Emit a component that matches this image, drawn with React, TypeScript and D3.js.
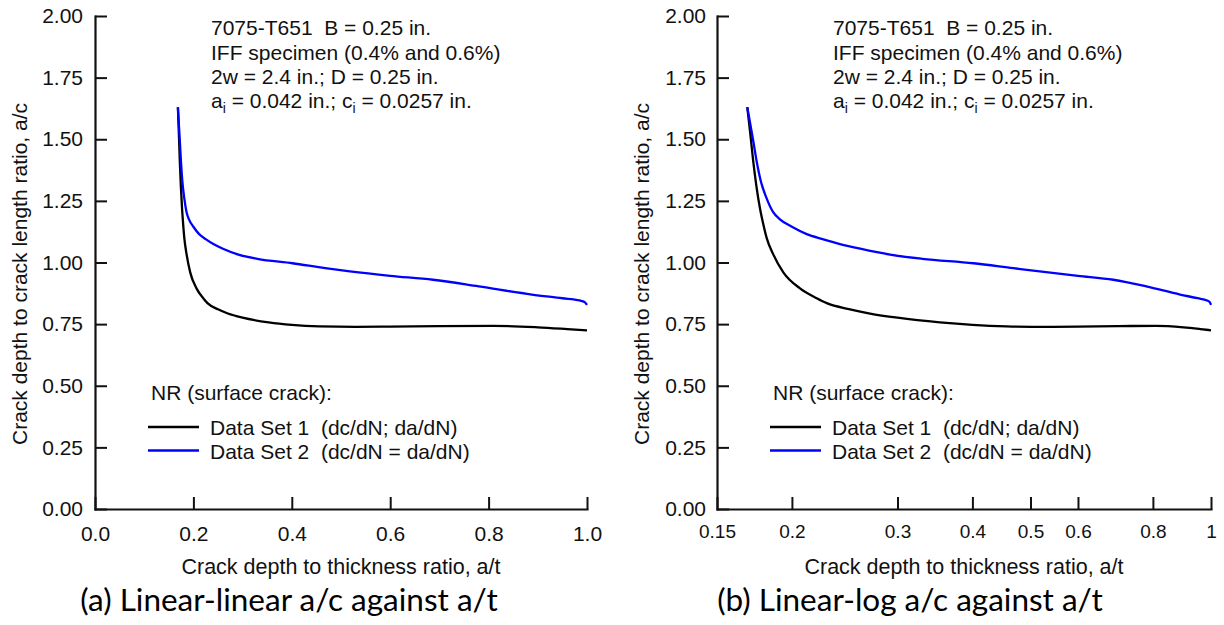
import React, { useEffect, useRef } from "react";
import * as d3 from "d3";

// NR surface crack results (a/t -> a/c)
const atSet1 = [0.1685, 0.1705, 0.1724, 0.1745, 0.1769, 0.179, 0.1815, 0.186, 0.1935, 0.2063, 0.22, 0.2286, 0.25, 0.27, 0.3, 0.353, 0.4, 0.456, 0.53, 0.6, 0.7, 0.81, 0.9, 0.96, 1.0];
const acSet1 = [1.63, 1.52, 1.41, 1.31, 1.22, 1.16, 1.10, 1.035, 0.96, 0.895, 0.855, 0.835, 0.81, 0.793, 0.776, 0.757, 0.747, 0.741, 0.739, 0.74, 0.742, 0.743, 0.737, 0.73, 0.725];

const atSet2 = [0.1685, 0.1705, 0.1725, 0.1747, 0.1775, 0.1815, 0.186, 0.191, 0.2, 0.2117, 0.225, 0.2406, 0.26, 0.2916, 0.33, 0.4015, 0.468, 0.518, 0.6, 0.687, 0.78, 0.888, 0.95, 0.985, 0.995, 1.0];
const acSet2 = [1.63, 1.56, 1.49, 1.41, 1.33, 1.26, 1.205, 1.175, 1.145, 1.115, 1.095, 1.075, 1.056, 1.032, 1.015, 0.997, 0.977, 0.964, 0.946, 0.930, 0.903, 0.870, 0.855, 0.846, 0.840, 0.828];

const yTicks = [0, 0.25, 0.5, 0.75, 1.0, 1.25, 1.5, 1.75, 2.0];
const xTicksLinear = [0, 0.2, 0.4, 0.6, 0.8, 1.0];
const xTicksLog = [0.15, 0.2, 0.3, 0.4, 0.5, 0.6, 0.8, 1];

const seriesNames = ["Data Set 1  (dc/dN; da/dN)", "Data Set 2  (dc/dN = da/dN)"];
const seriesColors = ["#000000", "#0000ff"];
const legendTitle = "NR (surface crack):";
const notes = ["7075-T651  B = 0.25 in.", "IFF specimen (0.4% and 0.6%)", "2w = 2.4 in.; D = 0.25 in."];
const xTitle = "Crack depth to thickness ratio, a/t";
const yTitle = "Crack depth to crack length ratio, a/c";
const captions = ["(a) Linear-linear a/c against a/t", "(b) Linear-log a/c against a/t"];

const FONT = "'Liberation Sans', Arial, sans-serif";

function drawPanel(svg: any, x: any, xTicks: number[], xFmt: (d: number) => string, xLabelSize: number, xPad: number, yPad: number, caption: string, captionX: number) {
  const y = d3.scaleLinear().domain([0, 2]).range([509, 16]);
  const [x0, x1] = x.range();
  const g = svg.append("g");

  // x axis
  const xa = g.append("g")
    .attr("transform", `translate(0,${y(0)})`)
    .call(d3.axisBottom(x).tickValues(xTicks).tickFormat(xFmt as any).tickSizeInner(-12).tickSizeOuter(0).tickPadding(xPad));
  xa.attr("font-family", FONT).attr("font-size", xLabelSize);
  xa.selectAll("text").attr("fill", "#111");

  // y axis
  const ya = g.append("g")
    .attr("transform", `translate(${x0},0)`)
    .call(d3.axisLeft(y).tickValues(yTicks).tickFormat(d3.format(".2f") as any).tickSizeInner(-12).tickSizeOuter(0).tickPadding(yPad));
  ya.attr("font-family", FONT).attr("font-size", 21);
  ya.selectAll("text").attr("fill", "#111");

  g.selectAll(".domain").attr("stroke", "#111").attr("stroke-width", 2.2).attr("stroke-linecap", "square");
  g.selectAll(".tick line").attr("stroke", "#111").attr("stroke-width", 2);

  // curves
  const line = d3.line<[number, number]>()
    .x(d => x(d[0]))
    .y(d => y(d[1]))
    .curve(d3.curveMonotoneX);
  const sets = [d3.zip(atSet1, acSet1), d3.zip(atSet2, acSet2)];
  sets.forEach((pts, i) => {
    g.append("path")
      .attr("d", line(pts as any))
      .attr("fill", "none")
      .attr("stroke", seriesColors[i])
      .attr("stroke-width", 2.3);
  });

  // notes
  const nx = x0 + 116;
  const nb = [35, 60, 84];
  notes.forEach((t, i) => {
    g.append("text").attr("x", nx).attr("y", nb[i])
      .attr("font-family", FONT).attr("font-size", 21).attr("fill", "#111")
      .style("white-space", "pre").text(t);
  });
  const t4 = g.append("text").attr("x", nx).attr("y", 108)
    .attr("font-family", FONT).attr("font-size", 21).attr("fill", "#111");
  t4.append("tspan").text("a");
  t4.append("tspan").attr("dy", 5).attr("font-size", 14).text("i");
  t4.append("tspan").attr("dy", -5).text(" = 0.042 in.; c");
  t4.append("tspan").attr("dy", 5).attr("font-size", 14).text("i");
  t4.append("tspan").attr("dy", -5).text(" = 0.0257 in.");

  // legend
  const lx = x0 + 56;
  g.append("text").attr("x", lx).attr("y", 400)
    .attr("font-family", FONT).attr("font-size", 21).attr("fill", "#111").text(legendTitle);
  seriesNames.forEach((name, i) => {
    const ly = 427 + i * 23.5;
    g.append("line").attr("x1", lx - 3).attr("x2", lx + 48).attr("y1", ly).attr("y2", ly)
      .attr("stroke", seriesColors[i]).attr("stroke-width", 2.3);
    g.append("text").attr("x", lx + 59).attr("y", ly + 8)
      .attr("font-family", FONT).attr("font-size", 21).attr("fill", "#111")
      .style("white-space", "pre").text(name);
  });

  // axis titles
  g.append("text").attr("x", (x0 + x1) / 2).attr("y", 574).attr("text-anchor", "middle")
    .attr("font-family", FONT).attr("font-size", 21.5).attr("fill", "#111").text(xTitle);
  g.append("text").attr("transform", `translate(${x0 - 68},274) rotate(-90)`).attr("text-anchor", "middle")
    .attr("font-family", FONT).attr("font-size", 21).attr("fill", "#111").text(yTitle);

  // caption
  g.append("text").attr("x", captionX).attr("y", 611).attr("text-anchor", "middle")
    .attr("font-family", "Lato, 'Open Sans', sans-serif").attr("font-size", 31.5).attr("fill", "#000").text(caption);
}

export default function App() {
  const ref = useRef<SVGSVGElement>(null);

  useEffect(() => {
    const svg = d3.select(ref.current);
    svg.selectAll("*").remove();
    svg.append("rect").attr("width", 1224).attr("height", 625).attr("fill", "#fff");

    const xLin = d3.scaleLinear().domain([0, 1]).range([95, 587]);
    drawPanel(svg, xLin, xTicksLinear, d3.format(".1f") as any, 21, 17, 12, captions[0], 289);

    const xLog = d3.scaleLog().domain([0.15, 1]).range([717, 1211]);
    drawPanel(svg, xLog, xTicksLog, (d: number) => String(d), 19, 16, 11, captions[1], 910);
  }, []);

  return (
    <svg ref={ref} width={1224} height={625}
      style={{ position: "absolute", left: 0, top: 0, background: "#fff" }} />
  );
}
